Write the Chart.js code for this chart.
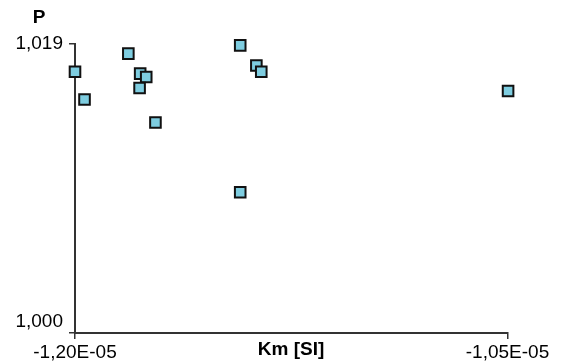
<!DOCTYPE html>
<html>
<head>
<meta charset="utf-8">
<script src="https://cdn.jsdelivr.net/npm/chart.js@4.4.0/dist/chart.umd.min.js"></script>
<style>
  html, body { margin: 0; padding: 0; background: #fff; }
</style>
</head>
<body>
<canvas id="kmChart" width="561" height="363"></canvas>
<script>
// Data
const kmValues = [-1.2000e-5, -1.1967e-5, -1.1815e-5, -1.1774e-5, -1.1753e-5, -1.1776e-5,
                  -1.1721e-5, -1.1427e-5, -1.1371e-5, -1.1354e-5, -1.1427e-5, -1.0498e-5];
const pValues = [1.01718, 1.01535, 1.01837, 1.01705, 1.01683, 1.01611,
                 1.01384, 1.01891, 1.01759, 1.01718, 1.00925, 1.01591];

const xTickValues = [-1.20e-5, -1.05e-5];
const xTickLabels = ['-1,20E-05', '-1,05E-05'];
const yTickValues = [1.000, 1.019];
const yTickLabels = ['1,000', '1,019'];
const xTitle = 'Km [SI]';
const yTitle = 'P';

const FONT = '"Liberation Sans", Arial, sans-serif';
const AXIS = '#333';

// titles + y labels drawn by hand (Excel-like placement)
const labelsPlugin = {
  id: 'labels',
  afterDraw(chart) {
    const ctx = chart.ctx;
    const area = chart.chartArea;
    const yScale = chart.scales.y;
    ctx.save();
    ctx.fillStyle = '#000';
    ctx.font = '19px ' + FONT;
    ctx.textAlign = 'right';
    ctx.textBaseline = 'middle';
    yTickValues.forEach((v, i) => {
      const py = Math.min(yScale.getPixelForValue(v), area.bottom - 11);
      ctx.fillText(yTickLabels[i], area.left - 12, py);
    });
    ctx.font = 'bold 19px ' + FONT;
    ctx.textAlign = 'center';
    ctx.fillText(yTitle, 39, 18);
    ctx.fillText(xTitle, 291, 350);
    ctx.restore();
  }
};

new Chart(document.getElementById('kmChart').getContext('2d'), {
  type: 'scatter',
  data: {
    datasets: [{
      data: kmValues.map((x, i) => ({ x: x, y: pValues[i] })),
      pointStyle: 'rect',
      pointRadius: 7.5,
      pointHoverRadius: 7.5,
      backgroundColor: '#7ECDE0',
      borderColor: '#111',
      borderWidth: 2,
      clip: false
    }]
  },
  options: {
    responsive: false,
    animation: false,
    events: [],
    layout: { padding: { top: 44, right: 53.5, bottom: 0, left: 0 } },
    plugins: {
      legend: { display: false },
      tooltip: { enabled: false }
    },
    scales: {
      x: {
        type: 'linear',
        min: xTickValues[0],
        max: xTickValues[1],
        afterBuildTicks: (scale) => { scale.ticks = xTickValues.map(v => ({ value: v })); },
        afterFit: (scale) => { scale.height = 30; },
        ticks: {
          autoSkip: false,
          maxRotation: 0,
          padding: 2,
          color: '#000',
          font: { family: FONT, size: 19 },
          callback: (v, i) => xTickLabels[i]
        },
        grid: { drawOnChartArea: false, drawTicks: true, tickLength: 6, color: AXIS, lineWidth: 1.5 },
        border: { display: true, color: AXIS, width: 2 }
      },
      y: {
        type: 'linear',
        min: yTickValues[0],
        max: yTickValues[1],
        afterBuildTicks: (scale) => { scale.ticks = yTickValues.map(v => ({ value: v })); },
        afterFit: (scale) => { scale.width = 75; },
        ticks: { display: false },
        grid: { drawOnChartArea: false, drawTicks: true, tickLength: 6, color: AXIS, lineWidth: 1.5 },
        border: { display: true, color: AXIS, width: 2 }
      }
    }
  },
  plugins: [labelsPlugin]
});
</script>
</body>
</html>
